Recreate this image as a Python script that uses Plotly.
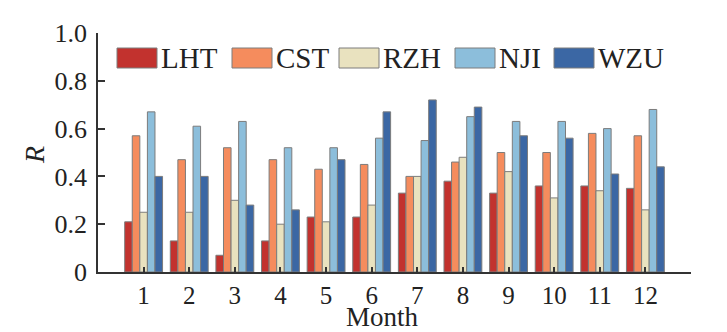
import plotly.graph_objects as go

months = [1, 2, 3, 4, 5, 6, 7, 8, 9, 10, 11, 12]
series_names = ["LHT", "CST", "RZH", "NJI", "WZU"]
LHT = [0.21, 0.13, 0.07, 0.13, 0.23, 0.23, 0.33, 0.38, 0.33, 0.36, 0.36, 0.35]
CST = [0.57, 0.47, 0.52, 0.47, 0.43, 0.45, 0.40, 0.46, 0.50, 0.50, 0.58, 0.57]
RZH = [0.25, 0.25, 0.30, 0.20, 0.21, 0.28, 0.40, 0.48, 0.42, 0.31, 0.34, 0.26]
NJI = [0.67, 0.61, 0.63, 0.52, 0.52, 0.56, 0.55, 0.65, 0.63, 0.63, 0.60, 0.68]
WZU = [0.40, 0.40, 0.28, 0.26, 0.47, 0.67, 0.72, 0.69, 0.57, 0.56, 0.41, 0.44]
yticks = [0, 0.2, 0.4, 0.6, 0.8, 1.0]
ytick_text = ["0", "0.2", "0.4", "0.6", "0.8", "1.0"]

colors = ["#c2322e", "#f58c5d", "#e9e2bf", "#8cbedb", "#3b67a4"]
values = [LHT, CST, RZH, NJI, WZU]

FONT = "Liberation Serif"
OFF = 8  # page body margin
W, H = 727 - OFF, 332 - OFF
ML, MT = 98 - OFF, 33 - OFF
MR = W - (691 - OFF)
MB = H - (272 - OFF)
PW, PH = W - ML - MR, H - MT - MB

fig = go.Figure()
for name, vals, col in zip(series_names, values, colors):
    fig.add_trace(go.Bar(
        x=months, y=vals, name=name,
        marker=dict(color=col, line=dict(color="#7c7c7c", width=1)),
        showlegend=False,
    ))

# page pixel -> paper coordinate
def px_x(p):
    return (p - OFF - ML) / PW

def px_y(p):
    return (H - MB - (p - OFF)) / PH

# custom legend with wide swatches
legend_box_left = [117, 232, 339, 455, 554]
shapes = []
annotations = []
for name, col, bx in zip(series_names, colors, legend_box_left):
    shapes.append(dict(type="rect", xref="paper", yref="paper",
                       x0=px_x(bx), x1=px_x(bx + 40), y0=px_y(68), y1=px_y(48),
                       fillcolor=col, line=dict(color="#7c7c7c", width=1)))
    annotations.append(dict(xref="paper", yref="paper", x=px_x(bx + 42), y=px_y(58),
                            text=name, showarrow=False, xanchor="left", yanchor="middle",
                            font=dict(family=FONT, size=29, color="#222222")))

# axis titles
annotations.append(dict(xref="paper", yref="paper", x=px_x(382), y=px_y(317),
                        text="Month", showarrow=False, xanchor="center", yanchor="middle",
                        font=dict(family=FONT, size=27, color="#222222")))
annotations.append(dict(xref="paper", yref="paper", x=px_x(34), y=px_y(155),
                        text="<i>R</i>", showarrow=False, xanchor="center", yanchor="middle",
                        textangle=-90,
                        font=dict(family=FONT, size=28, color="#222222")))

fig.update_layout(
    width=W, height=H,
    margin=dict(l=ML, r=MR, t=MT, b=MB, autoexpand=False),
    paper_bgcolor="white", plot_bgcolor="white",
    barmode="group", bargap=0.17, bargroupgap=0,
    font=dict(family=FONT, size=26, color="#222222"),
    shapes=shapes, annotations=annotations,
    xaxis=dict(range=[0, 13], tickvals=months, ticktext=[str(m) for m in months],
               ticks="inside", ticklen=5, tickwidth=1.5, tickcolor="#333",
               showline=True, linecolor="#333", linewidth=1.5, showgrid=False,
               zeroline=False, tickfont=dict(size=25), automargin=False),
    yaxis=dict(range=[0, 1.0], tickvals=yticks, ticktext=ytick_text,
               ticks="inside", ticklen=7, tickwidth=1.5, tickcolor="#333",
               showline=True, linecolor="#333", linewidth=1.5, showgrid=False,
               zeroline=False, tickfont=dict(size=26), ticklabelstandoff=4,
               automargin=False),
)

fig.write_html("out.html")
